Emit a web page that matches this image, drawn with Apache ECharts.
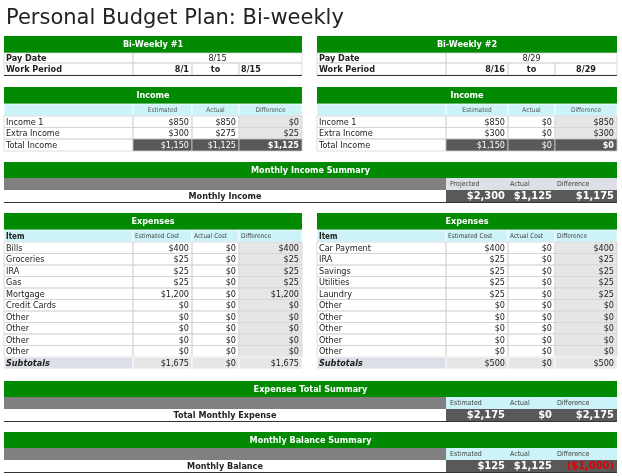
<!DOCTYPE html>
<html><head><meta charset="utf-8">
<script src="https://cdn.jsdelivr.net/npm/echarts@6/dist/echarts.min.js"></script>
<style>html,body{margin:0;padding:0;background:#fff}#c{width:622px;height:476px}</style>
</head><body><div id="c"></div>
<script>
// ---- data ----
const title = 'Personal Budget Plan: Bi-weekly';
const periodNames = ['Bi-Weekly #1', 'Bi-Weekly #2'];
const payDates = ['8/15', '8/29'];
const workStart = ['8/1', '8/16'];
const workEnd = ['8/15', '8/29'];
const incomeLabels = ['Income 1', 'Extra Income'];
const income1Est = [850, 300], income1Act = [850, 275], income1Diff = [0, 25];
const income1Total = [1150, 1125, 1125];
const income2Est = [850, 300], income2Act = [0, 0], income2Diff = [850, 300];
const income2Total = [1150, 0, 0];
const monthlyIncome = [2300, 1125, 1175];
const exp1Items = ['Bills','Groceries','IRA','Gas','Mortgage','Credit Cards','Other','Other','Other','Other'];
const exp1Est = [400,25,25,25,1200,0,0,0,0,0];
const exp1Act = [0,0,0,0,0,0,0,0,0,0];
const exp1Diff = [400,25,25,25,1200,0,0,0,0,0];
const exp1Sub = [1675, 0, 1675];
const exp2Items = ['Car Payment','IRA','Savings','Utilities','Laundry','Other','Other','Other','Other','Other'];
const exp2Est = [400,25,25,25,25,0,0,0,0,0];
const exp2Act = [0,0,0,0,0,0,0,0,0,0];
const exp2Diff = [400,25,25,25,25,0,0,0,0,0];
const exp2Sub = [500, 0, 500];
const expenseTotal = [2175, 0, 2175];
const monthlyBalance = [125, 1125, -1000];

// ---- layout ----
const GREEN='#038a03', CYAN='#ccf4f8', DARK='#595959', GRAYD='#e6e6e6', BAR='#808080', SUB='#dcdfe6', LINE='#d4d4d4';
const FONT='"DejaVu Sans Condensed", "DejaVu Sans", sans-serif';
const fmt = v => v < 0 ? '($' + Math.abs(v).toLocaleString('en-US') + ')' : '$' + v.toLocaleString('en-US');
const cells = [];
function cell(x0,y0,x1,y1,o){cells.push(Object.assign({x0,y0,x1,y1,fill:null,text:'',align:'left',color:'#222',bold:false,size:9,stroke:null,italic:false},o||{}));}

cell(4,2,620,34,{text:title,size:21,color:'#222',font:'"DejaVu Sans", sans-serif'});

const blocks=[{L:4,R:302,c:[133,192,239]},{L:317,R:617,c:[446,508,555]}];
const incData=[[income1Est,income1Act,income1Diff,income1Total],[income2Est,income2Act,income2Diff,income2Total]];
const expData=[[exp1Items,exp1Est,exp1Act,exp1Diff,exp1Sub],[exp2Items,exp2Est,exp2Act,exp2Diff,exp2Sub]];
blocks.forEach((b,k)=>{
  const [c1,c2,c3]=b.c;
  // bi-weekly
  cell(b.L,36,b.R,53,{fill:GREEN,text:periodNames[k],align:'center',color:'#fff',bold:true});
  cell(b.L,53,c1,63,{text:'Pay Date',bold:true,stroke:LINE});
  cell(c1,53,b.R,63,{text:payDates[k],align:'center',stroke:LINE});
  cell(b.L,63,c1,75,{text:'Work Period',bold:true,stroke:LINE});
  cell(c1,63,c2,75,{text:workStart[k],align:'right',bold:true,stroke:LINE});
  cell(c2,63,c3,75,{text:'to',align:'center',bold:true,stroke:LINE});
  cell(c3,63,b.R,75,{text:workEnd[k],align:k?'center':'left',bold:true,stroke:LINE});
  cell(b.L,75,b.R,76,{fill:'#333'});
  // income
  const [e,a,d,t]=incData[k];
  cell(b.L,87,b.R,104,{fill:GREEN,text:'Income',align:'center',color:'#fff',bold:true});
  cell(b.L,104,c1,116,{fill:CYAN,stroke:'#fff'});
  cell(c1,104,c2,116,{fill:CYAN,text:'Estimated',align:'center',size:6.5,color:'#555',stroke:'#fff'});
  cell(c2,104,c3,116,{fill:CYAN,text:'Actual',align:'center',size:6.5,color:'#555',stroke:'#fff'});
  cell(c3,104,b.R,116,{fill:CYAN,text:'Difference',align:'center',size:6.5,color:'#555',stroke:'#fff'});
  incomeLabels.forEach((lab,i)=>{
    const y=116+i*11.5;
    cell(b.L,y,c1,y+11.5,{text:lab,stroke:LINE});
    cell(c1,y,c2,y+11.5,{text:fmt(e[i]),align:'right',stroke:LINE});
    cell(c2,y,c3,y+11.5,{text:fmt(a[i]),align:'right',stroke:LINE});
    cell(c3,y,b.R,y+11.5,{fill:GRAYD,text:fmt(d[i]),align:'right',stroke:LINE});
  });
  cell(b.L,139,c1,151,{text:'Total Income',stroke:LINE});
  [c1,c2,c3].forEach((x,j)=>cell(x,139,[c2,c3,b.R][j],151,{fill:DARK,text:fmt(t[j]),align:'right',color:'#fff',bold:j==2,stroke:'#ccc'}));
  // expenses
  const [items,ee,ea,ed,sub]=expData[k];
  cell(b.L,213,b.R,230,{fill:GREEN,text:'Expenses',align:'center',color:'#fff',bold:true});
  cell(b.L,230,c1,242,{fill:CYAN,text:'Item',bold:true,size:8,stroke:'#fff'});
  cell(c1,230,c2,242,{fill:CYAN,text:'Estimated Cost',size:6.5,color:'#444',stroke:'#fff'});
  cell(c2,230,c3,242,{fill:CYAN,text:'Actual Cost',size:6.5,color:'#444',stroke:'#fff'});
  cell(c3,230,b.R,242,{fill:CYAN,text:'Difference',size:6.5,color:'#444',stroke:'#fff'});
  items.forEach((lab,i)=>{
    const y=242+i*11.5;
    cell(b.L,y,c1,y+11.5,{text:lab,stroke:LINE});
    cell(c1,y,c2,y+11.5,{text:fmt(ee[i]),align:'right',stroke:LINE});
    cell(c2,y,c3,y+11.5,{text:fmt(ea[i]),align:'right',stroke:LINE});
    cell(c3,y,b.R,y+11.5,{fill:GRAYD,text:fmt(ed[i]),align:'right',stroke:LINE});
  });
  cell(b.L,357,c1,369,{fill:SUB,text:'Subtotals',bold:true,italic:true,stroke:'#fff'});
  cell(c1,357,c2,369,{fill:GRAYD,text:fmt(sub[0]),align:'right',stroke:'#fff'});
  cell(c2,357,c3,369,{fill:GRAYD,text:fmt(sub[1]),align:'right',stroke:'#fff'});
  cell(c3,357,b.R,369,{fill:GRAYD,text:fmt(sub[2]),align:'right',stroke:'#fff'});
});

// summaries
function summary(y,titleTxt,labels,label,vals,hdrFill,big){
  cell(4,y,617,y+16,{fill:GREEN,text:titleTxt,align:'center',color:'#fff',bold:true});
  cell(4,y+16,446,y+28,{fill:BAR});
  cell(446,y+16,617,y+28,{fill:hdrFill});
  cell(448,y+16,508,y+28,{text:labels[0],size:7,color:'#444'});
  cell(508,y+16,555,y+28,{text:labels[1],size:7,color:'#444'});
  cell(555,y+16,617,y+28,{text:labels[2],size:7,color:'#444'});
  cell(4,y+28,446,y+40,{text:label,align:'center',bold:true});
  cell(446,y+28,617,y+40,{fill:DARK});
  [[446,508],[508,555],[555,617]].forEach((r,j)=>cell(r[0],y+28,r[1],y+40,{text:fmt(vals[j]),align:'right',color:vals[j]<0?'#e00000':'#fff',bold:true,size:big?11:10}));
  cell(4,y+40,617,y+41,{fill:'#333'});
}
summary(162,'Monthly Income Summary',['Projected','Actual','Difference'],'Monthly Income',monthlyIncome,'#dde0e6',true);
summary(381,'Expenses Total Summary',['Estimated','Actual','Difference'],'Total Monthly Expense',expenseTotal,CYAN,true);
summary(432,'Monthly Balance Summary',['Estimated','Actual','Difference'],'Monthly Balance',monthlyBalance,CYAN,true);

const chart = echarts.init(document.getElementById('c'),null,{renderer:'canvas'});
chart.setOption({
  animation:false,
  grid:{left:0,right:0,top:0,bottom:0},
  xAxis:{type:'value',min:0,max:622,show:false},
  yAxis:{type:'value',min:0,max:476,inverse:true,show:false},
  series:[{
    type:'custom',coordinateSystem:'cartesian2d',
    data:cells.map((c,i)=>[c.x0,c.y0,i]),
    renderItem:(params,api)=>{
      const c=cells[api.value(2)];
      const p0=api.coord([c.x0,c.y0]), p1=api.coord([c.x1,c.y1]);
      const w=p1[0]-p0[0], h=p1[1]-p0[1];
      const ch=[];
      if(c.fill||c.stroke) ch.push({type:'rect',shape:{x:p0[0],y:p0[1],width:w,height:h},style:{fill:c.fill||'transparent',stroke:c.stroke||null,lineWidth:c.stroke?0.8:0}});
      if(c.text!=='') {
        const tx=c.align==='left'?p0[0]+2:c.align==='right'?p1[0]-3:p0[0]+w/2;
        ch.push({type:'text',style:{x:tx,y:p0[1]+h/2+0.5,text:c.text,align:c.align,verticalAlign:'middle',fill:c.color,
          font:(c.italic?'italic ':'')+(c.bold?'bold ':'')+c.size+'px '+(c.font||FONT)}});
      }
      return {type:'group',children:ch};
    }
  }]
});
</script></body></html>
